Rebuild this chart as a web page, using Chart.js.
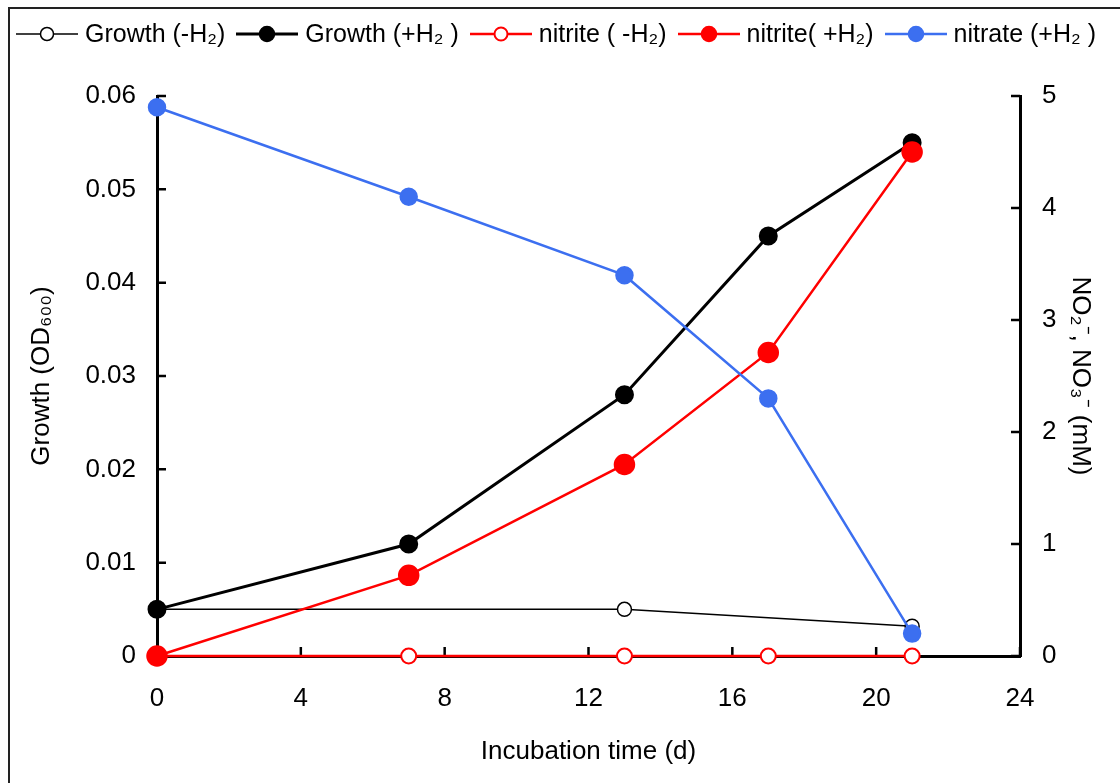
<!DOCTYPE html>
<html lang="en">
<head>
    <meta charset="utf-8">
    <title>Growth and nitrite / nitrate</title>
    <script src="https://cdn.jsdelivr.net/npm/chart.js"></script>
    <style>
        body { margin: 0; background: #fff; font-family: "Liberation Sans", Arial, sans-serif; }
        #wrap { position: relative; width: 1120px; height: 783px; }
        #frame { position: absolute; left: 8px; top: 7px; right: 0; bottom: 0; border-top: 2px solid #222; border-left: 2px solid #222; pointer-events: none; }
        #legend { position: absolute; left: 16px; top: 19px; display: flex; align-items: center; font-size: 25px; color: #000; white-space: nowrap; }
        .item { display: flex; align-items: center; margin-right: 11px; }
        .item canvas { margin-right: 7px; }
    </style>
</head>
<body>
<div id="wrap">
    <canvas id="chart" width="1120" height="783"></canvas>
    <div id="frame"></div>
    <div id="legend"></div>
</div>
<script>
    // data
    const days = [0, 7, 13, 17, 21];
    const growthMinusDays = [0, 13, 21];
    const growthMinus = [0.005, 0.005, 0.0032];      // OD600, -H2
    const growthPlus = [0.005, 0.012, 0.028, 0.045, 0.055]; // OD600, +H2
    const nitriteMinus = [0, 0, 0, 0, 0];             // mM
    const nitritePlus = [0, 0.72, 1.71, 2.71, 4.5];   // mM
    const nitratePlus = [4.9, 4.1, 3.4, 2.3, 0.2];    // mM

    const xTicks = [0, 4, 8, 12, 16, 20, 24];
    const labels = ['Growth (-H\u2082)', 'Growth (+H\u2082 )', 'nitrite ( -H\u2082)', 'nitrite( +H\u2082)', 'nitrate (+H\u2082 )'];

    const pts = (xs, ys) => xs.map((x, i) => ({ x: x, y: ys[i] }));
    const blue = '#3c6ff0';

    const datasets = [
        { label: labels[0], data: pts(growthMinusDays, growthMinus), yAxisID: 'y',
          borderColor: '#000', borderWidth: 1.5, pointBackgroundColor: '#fff', pointBorderColor: '#000',
          pointBorderWidth: 1.5, pointRadius: 7, order: 5 },
        { label: labels[1], data: pts(days, growthPlus), yAxisID: 'y',
          borderColor: '#000', borderWidth: 3, pointBackgroundColor: '#000', pointBorderColor: '#000',
          pointRadius: 8, order: 3 },
        { label: labels[2], data: pts(days, nitriteMinus), yAxisID: 'y2',
          borderColor: '#ff0000', borderWidth: 2.5, pointBackgroundColor: '#fff', pointBorderColor: '#ff0000',
          pointBorderWidth: 2, pointRadius: 7.5, order: 4 },
        { label: labels[3], data: pts(days, nitritePlus), yAxisID: 'y2',
          borderColor: '#ff0000', borderWidth: 2.5, pointBackgroundColor: '#ff0000', pointBorderColor: '#ff0000',
          pointRadius: 9.5, order: 2 },
        { label: labels[4], data: pts(days, nitratePlus), yAxisID: 'y2',
          borderColor: blue, borderWidth: 2.5, pointBackgroundColor: blue, pointBorderColor: blue,
          pointRadius: 8, order: 1 }
    ];
    datasets.forEach(ds => { ds.clip = false; });

    // short tick marks pointing into the plot
    const innerTicks = {
        id: 'innerTicks',
        beforeDatasetsDraw(chart) {
            const ctx = chart.ctx, a = chart.chartArea;
            const len = 9;
            ctx.save();
            ctx.strokeStyle = '#000';
            ctx.lineWidth = 2.5;
            ctx.beginPath();
            chart.scales.x.ticks.forEach(t => {
                const px = chart.scales.x.getPixelForValue(t.value);
                ctx.moveTo(px, a.bottom); ctx.lineTo(px, a.bottom - len);
            });
            chart.scales.y.ticks.forEach(t => {
                const py = chart.scales.y.getPixelForValue(t.value);
                ctx.moveTo(a.left, py); ctx.lineTo(a.left + len, py);
            });
            chart.scales.y2.ticks.forEach(t => {
                const py = chart.scales.y2.getPixelForValue(t.value);
                ctx.moveTo(a.right, py); ctx.lineTo(a.right - len, py);
            });
            ctx.stroke();
            ctx.restore();
        }
    };

    const font = { family: '"Liberation Sans", Arial, sans-serif', size: 26 };
    const axisBorder = { display: true, color: '#000', width: 3 };

    const chart = new Chart(document.getElementById('chart'), {
        type: 'line',
        data: { datasets: datasets },
        options: {
            responsive: false,
            animation: false,
            layout: { padding: { top: 96, left: 0, right: 0, bottom: 0 } },
            plugins: { legend: { display: false }, tooltip: { enabled: false } },
            elements: { line: { tension: 0 } },
            scales: {
                x: {
                    type: 'linear', min: 0, max: 24,
                    afterBuildTicks: s => { s.ticks = xTicks.map(v => ({ value: v })); },
                    afterFit: s => { s.height = 127; },
                    grid: { display: false, drawTicks: false },
                    border: axisBorder,
                    ticks: { color: '#000', font: font, padding: 27, maxRotation: 0 },
                    title: { display: true, text: 'Incubation time (d)', color: '#000', font: font, padding: { bottom: 16 } }
                },
                y: {
                    position: 'left', min: 0, max: 0.06,
                    afterFit: s => { s.width = 157; },
                    grid: { display: false, drawTicks: false },
                    border: axisBorder,
                    ticks: { stepSize: 0.01, color: '#000', font: font, padding: 21,
                             callback: v => v === 0 ? '0' : (+v).toFixed(2) },
                    title: { display: true, text: 'Growth (OD\u2086\u2080\u2080)', color: '#000', font: font, padding: { top: 26 } }
                },
                y2: {
                    position: 'right', min: 0, max: 5,
                    afterFit: s => { s.width = 100; },
                    grid: { display: false, drawTicks: false },
                    border: axisBorder,
                    ticks: { stepSize: 1, color: '#000', font: font, padding: 22 },
                    title: { display: true, text: 'NO\u2082\u207B, NO\u2083\u207B (mM)', color: '#000', font: font, padding: { top: 24 } }
                }
            }
        },
        plugins: [innerTicks]
    });

    // legend: line + marker, then label
    const legend = document.getElementById('legend');
    datasets.forEach(ds => {
        const item = document.createElement('div');
        item.className = 'item';
        const c = document.createElement('canvas');
        c.width = 62; c.height = 26;
        const g = c.getContext('2d');
        g.strokeStyle = ds.borderColor;
        g.lineWidth = ds.borderWidth;
        g.beginPath(); g.moveTo(0, 13); g.lineTo(62, 13); g.stroke();
        g.beginPath(); g.arc(31, 13, ds.pointRadius > 7.5 ? 7.5 : 6.5, 0, Math.PI * 2);
        g.fillStyle = ds.pointBackgroundColor; g.fill();
        g.lineWidth = ds.pointBorderWidth || 1.5; g.strokeStyle = ds.pointBorderColor; g.stroke();
        const span = document.createElement('span');
        span.textContent = ds.label;
        item.appendChild(c); item.appendChild(span);
        legend.appendChild(item);
    });
</script>
</body>
</html>
